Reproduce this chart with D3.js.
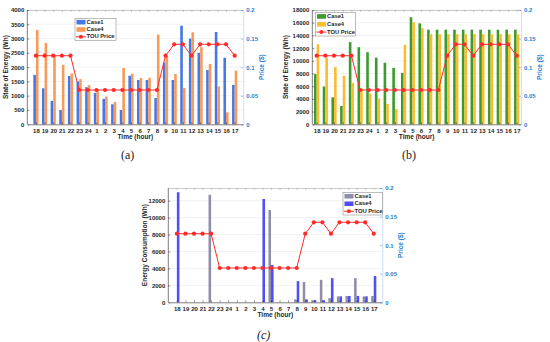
<!DOCTYPE html>
<html>
<head>
<meta charset="utf-8">
<script src="https://cdn.jsdelivr.net/npm/d3@7"></script>
<style>
  body { margin: 0; background: #fff; }
</style>
</head>
<body>
<div id="chart"></div>
<script>
// Hours of the day, 18:00 to 17:00 next day
const hours = [18, 19, 20, 21, 22, 23, 24, 1, 2, 3, 4, 5, 6, 7, 8, 9, 10, 11, 12, 13, 14, 15, 16, 17];
const touPrice = [0.12, 0.12, 0.12, 0.12, 0.12, 0.06, 0.06, 0.06, 0.06, 0.06, 0.06, 0.06, 0.06, 0.06, 0.06,
  0.12, 0.14, 0.14, 0.12, 0.14, 0.14, 0.14, 0.14, 0.12];

// (a) state of energy, small storage
const socCase1A = [1730, 1260, 820, 500, 1690, 1500, 1300, 1100, 890, 700, 500, 1700, 1550, 1550, 920,
  2160, 1550, 3450, 3000, 2500, 1900, 3230, 2330, 1380];
const socCase4A = [3300, 2850, 2380, 2080, 1780, 1580, 1370, 1180, 970, 780, 1970, 1770, 1620, 1630, 3140,
  2390, 1760, 1270, 3220, 2700, 2110, 1330, 420, 1880];

// (b) state of energy, EV
const socCase1B = [7900, 5950, 4250, 2900, 12950, 12150, 11350, 10500, 9700, 8900, 8100, 16850, 15900, 14900, 14900,
  14900, 14900, 14900, 14900, 14900, 14900, 14900, 14900, 14900];
const socCase4B = [12600, 10500, 9000, 7650, 6500, 5650, 4850, 4050, 3200, 2400, 12500, 16050, 15150, 14200, 14200,
  14200, 14200, 14200, 14200, 14200, 14200, 14200, 14200, 14200];

// (c) energy consumption
const consCase1 = [0, 0, 0, 0, 12700, 0, 0, 0, 0, 0, 0, 10900, 0, 0, 350, 2400, 250, 2650, 500, 700, 750, 2850, 700, 750];
const consCase4 = [13000, 0, 0, 0, 0, 0, 0, 0, 0, 0, 12200, 4400, 0, 0, 2500, 350, 250, 250, 2850, 700, 750, 750, 700, 3100];

const ticksA = [0, 500, 1000, 1500, 2000, 2500, 3000, 3500, 4000];
const ticksB = [0, 2000, 4000, 6000, 8000, 10000, 12000, 14000, 16000, 18000];
const ticksC = [0, 2000, 4000, 6000, 8000, 10000, 12000];
const priceTicks = [0, 0.05, 0.1, 0.15, 0.2];

const SANS = '"Liberation Sans", Arial, sans-serif';

const svg = d3.select('#chart')
  .append('svg')
  .attr('width', 550)
  .attr('height', 342)
  .attr('font-family', SANS)
  .style('background', '#fff');

const panels = [
  {
    left: 27.3, right: 243.3, top: 10, bottom: 124.3, xDomain: [0, 25],
    yMax: 4000, yTicks: ticksA, s1: socCase1A, s2: socCase4A,
    c1: '#4677e6', c2: '#f79a5a', yLabel: 'State of Energy (Wh)', yLabelX: 6,
    legend: { x: 75, y: 18.5, w: 41, h: 22 }, caption: '(a)', capX: 121, capY: 159, capItalic: false
  },
  {
    left: 312.3, right: 521, top: 10, bottom: 124.3, xDomain: [0.5, 24.5],
    yMax: 18000, yTicks: ticksB, s1: socCase1B, s2: socCase4B,
    c1: '#3d9a2e', c2: '#fbbd2e', yLabel: 'State of Energy (Wh)', yLabelX: 286,
    legend: { x: 315.5, y: 12.5, w: 40, h: 23.5 }, caption: '(b)', capX: 402, capY: 159, capItalic: false
  },
  {
    left: 168.3, right: 382.3, top: 188, bottom: 302.3, xDomain: [0, 25],
    yMax: 13500, yTicks: ticksC, s1: consCase1, s2: consCase4,
    c1: '#8e8eaa', c2: '#4f4ff5', yLabel: 'Energy Consumption (Wh)', yLabelX: 145,
    legend: { x: 343, y: 192.5, w: 39.3, h: 22.5 }, caption: '(c)', capX: 257, capY: 339, capItalic: true
  }
];

const styleAxis = (g, color) => {
  g.attr('font-size', 6).attr('font-weight', 'bold').attr('font-family', SANS);
  g.selectAll('text').attr('fill', color);
  g.selectAll('line').attr('stroke', color).attr('stroke-width', 0.5);
};

const drawPanel = p => {
  const g = svg.append('g');
  const x = d3.scaleLinear().domain(p.xDomain).range([p.left, p.right]);
  const y = d3.scaleLinear().domain([0, p.yMax]).range([p.bottom, p.top]);
  const yPrice = d3.scaleLinear().domain([0, 0.2]).range([p.bottom, p.top]);
  const unit = x(1) - x(0);
  const barW = 0.3 * unit;

  // grid
  g.selectAll('line.grid')
    .data(p.yTicks.filter(d => d > 0))
    .join('line')
    .attr('x1', p.left).attr('x2', p.right)
    .attr('y1', d => y(d)).attr('y2', d => y(d))
    .attr('stroke', '#e4e4e4').attr('stroke-width', 0.5);

  // bars
  g.selectAll('rect.s1')
    .data(p.s1)
    .join('rect')
    .attr('x', (d, i) => x(i + 1) - 0.15 * unit - barW / 2)
    .attr('y', d => y(d))
    .attr('width', barW)
    .attr('height', d => y(0) - y(d))
    .attr('fill', p.c1);
  g.selectAll('rect.s2')
    .data(p.s2)
    .join('rect')
    .attr('x', (d, i) => x(i + 1) + 0.15 * unit - barW / 2)
    .attr('y', d => y(d))
    .attr('width', barW)
    .attr('height', d => y(0) - y(d))
    .attr('fill', p.c2);

  // axes
  const xAxis = g.append('g')
    .attr('transform', `translate(0,${p.bottom})`)
    .call(d3.axisBottom(x).tickValues(d3.range(1, 25)).tickFormat(i => hours[i - 1])
      .tickSizeInner(-2).tickSizeOuter(0).tickPadding(4));
  styleAxis(xAxis, '#262626');
  xAxis.select('.domain').attr('stroke', '#262626').attr('stroke-width', 0.6);

  const topAxis = g.append('g')
    .attr('transform', `translate(0,${p.top})`)
    .call(d3.axisTop(x).tickValues(d3.range(1, 25)).tickFormat('').tickSizeInner(-2).tickSizeOuter(0));
  styleAxis(topAxis, '#9a9a9a');
  topAxis.select('.domain').attr('stroke', '#9a9a9a').attr('stroke-width', 0.5);

  const yAxis = g.append('g')
    .attr('transform', `translate(${p.left},0)`)
    .call(d3.axisLeft(y).tickValues(p.yTicks).tickFormat(d3.format('d'))
      .tickSizeInner(-2).tickSizeOuter(0).tickPadding(3));
  styleAxis(yAxis, '#262626');
  yAxis.select('.domain').attr('d', `M0,${p.bottom}V${p.top}`).attr('stroke', '#262626').attr('stroke-width', 0.6);

  const pAxis = g.append('g')
    .attr('transform', `translate(${p.right},0)`)
    .call(d3.axisRight(yPrice).tickValues(priceTicks).tickFormat(d => String(+d.toFixed(2)))
      .tickSizeInner(-2).tickSizeOuter(0).tickPadding(3));
  styleAxis(pAxis, '#1f7fd4');
  pAxis.select('.domain').attr('stroke', '#a9cdee').attr('stroke-width', 0.6);

  // TOU price
  const line = d3.line().x((d, i) => x(i + 1)).y(d => yPrice(d));
  g.append('path')
    .datum(touPrice)
    .attr('d', line)
    .attr('fill', 'none')
    .attr('stroke', '#ff2a2a')
    .attr('stroke-width', 1);
  g.selectAll('circle.tou')
    .data(touPrice)
    .join('circle')
    .attr('cx', (d, i) => x(i + 1))
    .attr('cy', d => yPrice(d))
    .attr('r', 2.1)
    .attr('fill', '#ff2a2a');

  // labels
  g.append('text')
    .attr('transform', `translate(${p.yLabelX},${(p.top + p.bottom) / 2}) rotate(-90)`)
    .attr('text-anchor', 'middle')
    .attr('dominant-baseline', 'middle')
    .attr('font-size', 6.5).attr('font-weight', 'bold').attr('fill', '#262626')
    .text(p.yLabel);
  g.append('text')
    .attr('transform', `translate(${p.right + 19},${(p.top + p.bottom) / 2}) rotate(-90)`)
    .attr('text-anchor', 'middle')
    .attr('dominant-baseline', 'middle')
    .attr('font-size', 6.5).attr('font-weight', 'bold').attr('fill', '#1f7fd4')
    .text('Price ($)');
  g.append('text')
    .attr('x', (p.left + p.right) / 2)
    .attr('y', p.bottom + 15)
    .attr('text-anchor', 'middle')
    .attr('font-size', 6.5).attr('font-weight', 'bold').attr('fill', '#262626')
    .text('Time (hour)');
  g.append('text')
    .attr('x', p.capX)
    .attr('y', p.capY)
    .attr('font-family', '"Liberation Serif", "Times New Roman", serif')
    .attr('font-style', p.capItalic ? 'italic' : 'normal')
    .attr('font-size', 12).attr('fill', '#222')
    .text(p.caption);

  // legend
  const L = p.legend;
  const lg = g.append('g').attr('transform', `translate(${L.x},${L.y})`);
  lg.append('rect')
    .attr('width', L.w).attr('height', L.h)
    .attr('fill', '#fff').attr('stroke', '#7a7a7a').attr('stroke-width', 0.5);
  const rowH = L.h / 3;
  const entries = [
    { name: 'Case1', color: p.c1, type: 'bar' },
    { name: 'Case4', color: p.c2, type: 'bar' },
    { name: 'TOU Price', color: '#ff2a2a', type: 'line' }
  ];
  const rows = lg.selectAll('g.row')
    .data(entries)
    .join('g')
    .attr('transform', (d, i) => `translate(0,${rowH * (i + 0.5)})`);
  rows.filter(d => d.type === 'bar')
    .append('rect')
    .attr('x', 1.5).attr('y', -2.3).attr('width', 9).attr('height', 4.6)
    .attr('fill', d => d.color);
  rows.filter(d => d.type === 'line')
    .append('line')
    .attr('x1', 0.8).attr('x2', 11).attr('y1', 0).attr('y2', 0)
    .attr('stroke', d => d.color).attr('stroke-width', 1);
  rows.filter(d => d.type === 'line')
    .append('circle')
    .attr('cx', 5.9).attr('cy', 0).attr('r', 2)
    .attr('fill', d => d.color);
  rows.append('text')
    .attr('x', 11.5).attr('y', 0)
    .attr('dominant-baseline', 'middle')
    .attr('font-size', 5.8).attr('font-weight', 'bold').attr('fill', '#262626')
    .text(d => d.name);
};

panels.forEach(drawPanel);
</script>
</body>
</html>
